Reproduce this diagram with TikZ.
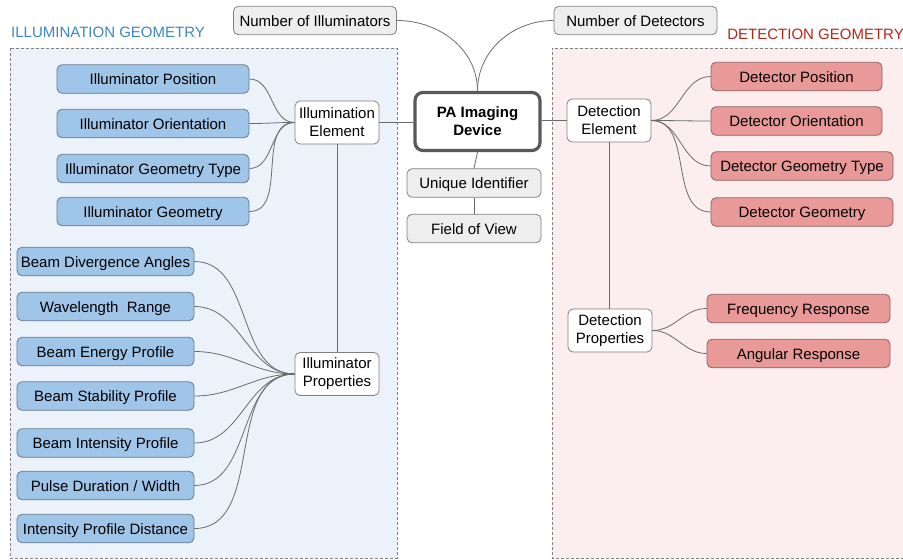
\documentclass[tikz,border=0pt]{standalone}
\usepackage{fontspec}
\setmainfont{Liberation Sans}
\definecolor{edge}{HTML}{6B6B6B}
\definecolor{bluefill}{HTML}{9FC5E8}
\definecolor{blueline}{HTML}{66798C}
\definecolor{redfill}{HTML}{EA9999}
\definecolor{redline}{HTML}{8A6262}
\definecolor{grayfill}{HTML}{EEEEEE}
\definecolor{grayline}{HTML}{808080}
\definecolor{leftbg}{HTML}{EBF2FA}
\definecolor{rightbg}{HTML}{FCEEEE}
\definecolor{bluetitle}{HTML}{3D85C6}
\definecolor{redtitle}{HTML}{B4261A}
\definecolor{paline}{HTML}{595959}
\tikzset{
  base/.style={rounded corners=5pt, font=\fontsize{15}{18}\selectfont, align=center, inner sep=0pt, line width=0.8pt},
  single/.style={text height=12pt, text depth=1pt},
  bluebox/.style={base, single, draw=blueline, fill=bluefill, minimum height=28.5pt},
  redbox/.style={base, single, draw=redline, fill=redfill, minimum height=28.5pt},
  graybox/.style={base, single, draw=grayline, fill=grayfill, minimum height=28.5pt},
  whitebox/.style={base, draw=grayline, fill=white, minimum width=84pt, minimum height=43pt},
  pabox/.style={base, draw=paline, fill=white, line width=3.2pt, rounded corners=8pt, font=\fontsize{15}{18}\selectfont\bfseries},
  conn/.style={draw=edge, line width=0.8pt},
  panel/.style={draw=grayline, line width=0.8pt, dash pattern=on 3pt off 2pt},
  title/.style={font=\fontsize{15}{18}\selectfont, inner sep=0pt}
}
\begin{document}
\begin{tikzpicture}[x=1pt, y=-1pt]
\useasboundingbox (0,0) rectangle (903,560);
% panels
\fill[leftbg] (10,48) rectangle (397,558);
\draw[panel] (10,48) rectangle (397,558);
\fill[rightbg] (552,48) rectangle (903,558);
\draw[panel] (903,48) -- (552,48) -- (552,558) -- (903,558);
\node[title, text=bluetitle, anchor=west] (lt) at (11,32) {ILLUMINATION GEOMETRY};
\node[title, text=redtitle, anchor=east] (rt) at (904,34.5) {DETECTION GEOMETRY};

% centre column
\node[pabox, minimum width=125pt, minimum height=58pt] (pa) at (477.5,121.5) {PA Imaging\\Device};
\node[graybox, minimum width=134pt] (uid) at (474,183) {Unique Identifier};
\node[graybox, minimum width=134pt] (fov) at (474,228.5) {Field of View};
\node[graybox, minimum width=163pt] (nill) at (315,20.5) {Number of Illuminators};
\node[graybox, minimum width=163pt] (ndet) at (635.5,20.5) {Number of Detectors};

% illumination side
\node[whitebox] (ie) at (337,122.5) {Illumination\\Element};
\node[whitebox] (ipr) at (337,374) {Illuminator\\Properties};
\node[bluebox, minimum width=192pt] (ipos) at (153,79) {Illuminator Position};
\node[bluebox, minimum width=192pt] (iori) at (153,123.5) {Illuminator Orientation};
\node[bluebox, minimum width=192pt] (igt) at (153,168.5) {Illuminator Geometry Type};
\node[bluebox, minimum width=192pt] (igeo) at (153,211.5) {Illuminator Geometry};
\node[bluebox, minimum width=177pt] (bda) at (105.5,261.5) {Beam Divergence Angles};
\node[bluebox, minimum width=177pt] (wlr) at (105.5,306.5) {Wavelength~ Range};
\node[bluebox, minimum width=177pt] (bep) at (105.5,351.5) {Beam Energy Profile};
\node[bluebox, minimum width=177pt] (bsp) at (105.5,396) {Beam Stability Profile};
\node[bluebox, minimum width=177pt] (bip) at (105.5,443) {Beam Intensity Profile};
\node[bluebox, minimum width=177pt] (pdw) at (105.5,485.5) {Pulse Duration / Width};
\node[bluebox, minimum width=177pt] (ipd) at (105.5,528.5) {Intensity Profile Distance};

% detection side
\node[whitebox] (de) at (609,120.5) {Detection\\Element};
\node[whitebox] (dpr) at (610,330.5) {Detection\\Properties};
\node[redbox, minimum width=171pt] (dpos) at (796.5,76.5) {Detector Position};
\node[redbox, minimum width=171pt] (dori) at (796.5,121) {Detector Orientation};
\node[redbox, minimum width=182pt] (dgt) at (802,166) {Detector Geometry Type};
\node[redbox, minimum width=182pt] (dgeo) at (802,212) {Detector Geometry};
\node[redbox, minimum width=183pt] (fr) at (798.5,308.5) {Frequency Response};
\node[redbox, minimum width=183pt] (ar) at (798.5,353.5) {Angular Response};

% connectors
\draw[conn] (pa.south) -- (uid.north);
\draw[conn] (uid.south) -- (fov.north);
\draw[conn] (nill.east) to[out=0, in=90, looseness=1] (pa.north);
\draw[conn] (ndet.west) to[out=180, in=90, looseness=1] (pa.north);
\draw[conn] (ie.east) -- (ie.east -| pa.west);
\draw[conn] (de.west) -- (de.west -| pa.east);
\draw[conn] (ie.south) -- (ipr.north);
\draw[conn] (de.south) -- (de.south |- dpr.north);
\foreach \n in {ipos,iori,igt,igeo}
  \draw[conn] (ie.west) to[out=180, in=0] (\n.east);
\foreach \n in {bda,wlr,bep,bsp,bip,pdw,ipd}
  \draw[conn] (ipr.west) to[out=180, in=0] (\n.east);
\foreach \n in {dpos,dori,dgt,dgeo}
  \draw[conn] (de.east) to[out=0, in=180] (\n.west);
\foreach \n in {fr,ar}
  \draw[conn] (dpr.east) to[out=0, in=180] (\n.west);
\end{tikzpicture}
\end{document}
